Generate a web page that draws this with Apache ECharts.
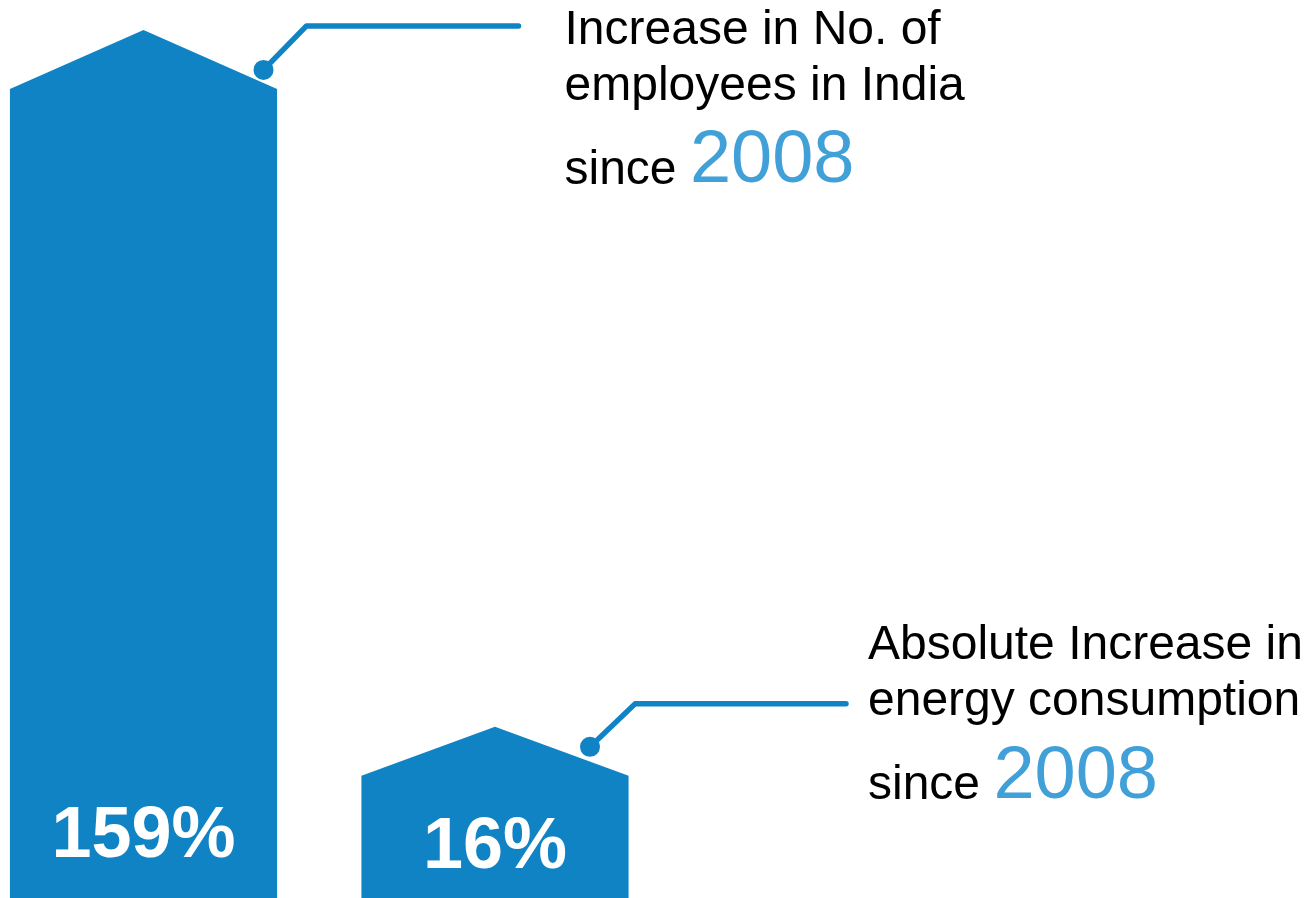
<!DOCTYPE html>
<html><head><meta charset="utf-8">
<script src="https://cdn.jsdelivr.net/npm/echarts@6/dist/echarts.min.js"></script>
<style>html,body{margin:0;padding:0;background:#fff}#main{width:1309px;height:898px}</style>
</head><body><div id="main"></div>
<script>
// ---- data ----
const categories = ['Employees in India', 'Energy consumption'];
const values = [159, 16];          // % increase since 2008 (shown as labels)
const barLevels = [90.1, 13.6];    // drawn bar (shoulder) height of the infographic, axis units 0-100 (not to scale)
const captionLines = [
  ['Increase in No. of', 'employees in India'],
  ['Absolute Increase in', 'energy consumption']
];
const captionPrefix = ['since ', 'since '];
const captionYear = ['2008', '2008'];

// ---- styling ----
const FONT = "'Liberation Sans', Arial, Helvetica, sans-serif";
const BLUE = '#1083c5';
const YEAR_BLUE = '#41a0d8';
const roofPx = [59, 49];
const dotOffset = [[120, 40], [95, 20]];
const diag = [[43, -44], [45, -43]];
const lineLen = [212, 211];
const textOffset = [[46, 21], [22, -41]];
const labelFromBottom = [36, 25];
const CAP_FS = 48, YEAR_FS = 74, LABEL_FS = 72;

const mctx = document.createElement('canvas').getContext('2d');
function tw(t, font) { mctx.font = font; return mctx.measureText(t).width; }
function midY(baseline, fs) { return baseline - 0.3465 * fs; }

const seriesData = categories.map((c, i) => [i, barLevels[i], values[i]]);

function renderItem(params, api) {
  const i = params.dataIndex;
  const c = api.coord([api.value(0), api.value(1)]);
  const b = api.coord([api.value(0), 0]);
  const bw = api.size([1, 0])[0] * 0.76;
  const l = c[0] - bw / 2, r = c[0] + bw / 2, top = c[1], bot = b[1];
  const peak = [c[0], top - roofPx[i]];
  const dot = [peak[0] + dotOffset[i][0], peak[1] + dotOffset[i][1]];
  const knee = [dot[0] + diag[i][0], dot[1] + diag[i][1]];
  const end = [knee[0] + lineLen[i], knee[1]];
  const tx = end[0] + textOffset[i][0];
  const b1 = end[1] + textOffset[i][1];
  const capFont = CAP_FS + 'px ' + FONT;
  const prefW = tw(captionPrefix[i], capFont);
  const children = [
    { type: 'polygon', shape: { points: [[l, bot], [l, top], peak, [r, top], [r, bot]] }, style: { fill: BLUE } },
    { type: 'polyline', shape: { points: [dot, knee, end] }, style: { stroke: BLUE, lineWidth: 5.5, fill: null, lineCap: 'round', lineJoin: 'round' } },
    { type: 'circle', shape: { cx: dot[0], cy: dot[1], r: 10 }, style: { fill: BLUE } },
    { type: 'text', x: c[0], y: midY(bot - labelFromBottom[i], LABEL_FS),
      style: { text: api.value(2) + '%', fill: '#fff', font: 'bold ' + LABEL_FS + 'px ' + FONT, align: 'center', verticalAlign: 'middle' } },
    { type: 'text', x: tx, y: midY(b1, CAP_FS),
      style: { text: captionLines[i][0], fill: '#000', font: capFont, align: 'left', verticalAlign: 'middle' } },
    { type: 'text', x: tx, y: midY(b1 + 56, CAP_FS),
      style: { text: captionLines[i][1], fill: '#000', font: capFont, align: 'left', verticalAlign: 'middle' } },
    { type: 'text', x: tx, y: midY(b1 + 140, CAP_FS),
      style: { text: captionPrefix[i], fill: '#000', font: capFont, align: 'left', verticalAlign: 'middle' } },
    { type: 'text', x: tx + prefW, y: midY(b1 + 140, YEAR_FS),
      style: { text: captionYear[i], fill: YEAR_BLUE, font: YEAR_FS + 'px ' + FONT, align: 'left', verticalAlign: 'middle' } }
  ];
  return { type: 'group', children };
}

// x axis: one unit = 351.5 px, category index 0 centred at x = 143.5 px
const X_MIN = -143.5 / 351.5;
const X_MAX = X_MIN + 1309 / 351.5;

const chart = echarts.init(document.getElementById('main'), null, { renderer: 'canvas' });
chart.setOption({
  animation: false,
  grid: { left: 0, right: 0, top: 0, bottom: 0, containLabel: false },
  xAxis: { type: 'value', min: X_MIN, max: X_MAX, show: false },
  yAxis: { type: 'value', min: 0, max: 100, show: false },
  series: [{ type: 'custom', renderItem, data: seriesData, clip: false, encode: { x: 0, y: 1 } }]
});
</script></body></html>
